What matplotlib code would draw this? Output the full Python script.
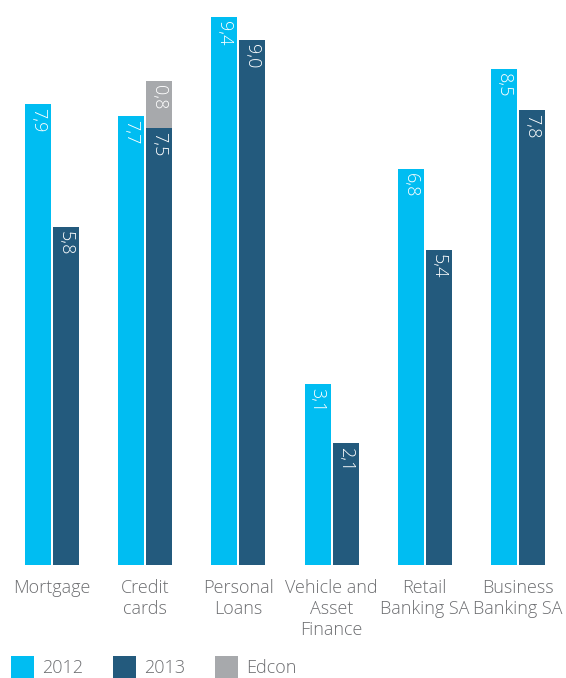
import matplotlib
matplotlib.use("Agg")
import matplotlib.pyplot as plt
from matplotlib.patches import Rectangle

# ── Data ──────────────────────────────────────────────────────────────────────
categories = ["Mortgage", "Credit\ncards", "Personal\nLoans",
              "Vehicle and\nAsset\nFinance", "Retail\nBanking SA",
              "Business\nBanking SA"]
vals_2012 = [7.9, 7.7, 9.4, 3.1, 6.8, 8.5]
vals_2013 = [5.8, 7.5, 9.0, 2.1, 5.4, 7.8]
vals_edcon = [0.0, 0.8, 0.0, 0.0, 0.0, 0.0]
legend_labels = ["2012", "2013", "Edcon"]

C2012 = "#00BDF2"
C2013 = "#235A7D"
CEDCON = "#A7A9AC"
TXT = "#6D6E71"

plt.rcParams["font.family"] = ["Open Sans", "DejaVu Sans"]

W, H = 566, 678
fig = plt.figure(figsize=(W / 100, H / 100), dpi=100)

# axes spans full width; baseline sits at y=565px
base_px = 565
ax = fig.add_axes([0, (H - base_px) / H, 1, base_px / H])
px_per_unit_y = 58.3
ax.set_ylim(0, base_px / px_per_unit_y)
px_per_unit_x = 93.2
ax.set_xlim(-52 / px_per_unit_x, (W - 52) / px_per_unit_x)
ax.axis("off")

bw = 26 / px_per_unit_x
off = 14 / px_per_unit_x
lab_gap = 4 / px_per_unit_y
VFS = 13


def fmt(v):
    return f"{v:.1f}".replace(".", ",")


for i, (a, b, e) in enumerate(zip(vals_2012, vals_2013, vals_edcon)):
    ax.bar(i - off, a, bw, color=C2012, linewidth=0)
    ax.bar(i + off, b, bw, color=C2013, linewidth=0)
    ax.text(i - off, a - lab_gap, fmt(a), rotation=270, ha="center", va="top",
            color="white", fontsize=VFS, fontweight="light")
    ax.text(i + off, b - lab_gap, fmt(b), rotation=270, ha="center", va="top",
            color="white", fontsize=VFS, fontweight="light")
    if e > 0:
        ax.bar(i + off, e, bw, bottom=b, color=CEDCON, linewidth=0)
        ax.text(i + off, b + e - lab_gap, fmt(e), rotation=270, ha="center",
                va="top", color="white", fontsize=VFS, fontweight="light")
    ax.text(i, -14 / px_per_unit_y, categories[i], ha="center", va="top",
            color=TXT, fontsize=13, fontweight="light", linespacing=1.2,
            clip_on=False)

# legend along the bottom edge
for x0, lab, col in zip([11, 113, 215], legend_labels, [C2012, C2013, CEDCON]):
    fig.patches.append(Rectangle((x0 / W, 0), 23 / W, 22 / H,
                                 transform=fig.transFigure, color=col,
                                 linewidth=0))
    fig.text((x0 + 31) / W, 10 / H, lab, ha="left", va="center", color=TXT,
             fontsize=13, fontweight="light")

fig.savefig("out.png", dpi=100)
